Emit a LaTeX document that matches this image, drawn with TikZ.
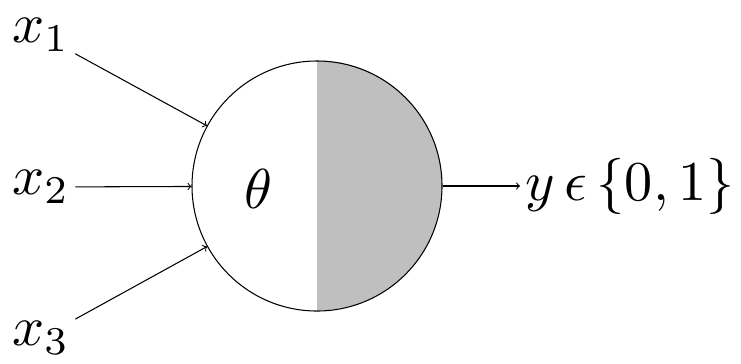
\documentclass[tikz,border=0pt]{standalone}
\usepackage{amsmath,amssymb}
\begin{document}
\begin{tikzpicture}[lbl/.style={scale=3.2,inner sep=0.7pt},line width=0.6pt]
\useasboundingbox (0,0) rectangle (14.82,7.26);
\node[lbl] (X1) at (0.82,6.56) {$x_1$};
\node[lbl] (X2) at (0.82,3.52) {$x_2$};
\node[lbl] (X3) at (0.82,0.5) {$x_3$};
\node[circle,minimum size=5cm,inner sep=0pt] (N) at (6.34,3.54) {};
\fill[black!25] (N.north) arc (90:-90:2.5cm) -- cycle;
\draw (N.center) circle (2.5cm);
\node[lbl] (T) at (5.16,3.48) {$\theta$};
\node[lbl,anchor=west] (Y) at (10.4,3.54) {$y\,\epsilon\,\{0,1\}$};
\draw[->] (X1) -- (N);
\draw[->] (X2) -- (N);
\draw[->] (X3) -- (N);
\draw[->] (N) -- (Y.west);
\end{tikzpicture}
\end{document}
